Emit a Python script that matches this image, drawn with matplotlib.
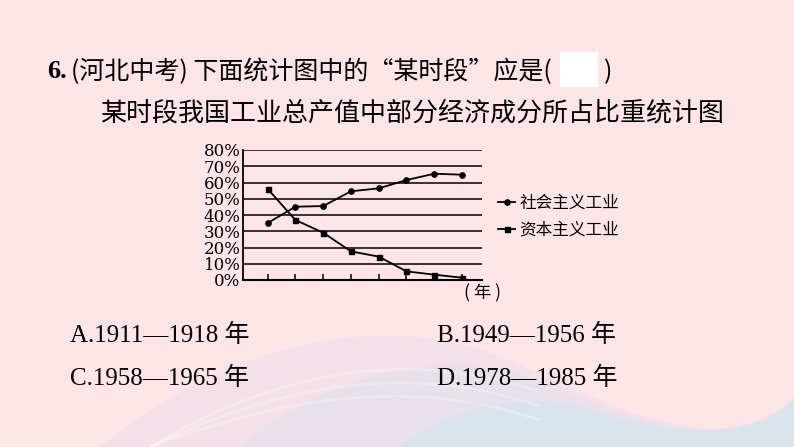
import matplotlib
matplotlib.use("Agg")
import matplotlib.pyplot as plt
from matplotlib.path import Path
from matplotlib.patches import PathPatch

# ---- data ----
x_idx = [0, 1, 2, 3, 4, 5, 6, 7]
socialist = [35.1, 45.1, 45.5, 54.6, 56.4, 61.5, 65.4, 64.8]
capitalist = [56.0, 36.9, 29.1, 17.6, 14.4, 5.3, 3.3, 1.4]
series_names = ["社会主义工业", "资本主义工业"]
y_ticks = [0, 10, 20, 30, 40, 50, 60, 70, 80]
y_labels = ["0%", "10%", "20%", "30%", "40%", "50%", "60%", "70%", "80%"]
question = "(河北中考) 下面统计图中的“某时段”应是("
chart_title = "某时段我国工业总产值中部分经济成分所占比重统计图"
options = ["A.1911—1918 年", "B.1949—1956 年", "C.1958—1965 年", "D.1978—1985 年"]

W, H = 794, 447
fig = plt.figure(figsize=(W / 100, H / 100), dpi=100)
fig.patch.set_facecolor("#fde4e6")

def fx(px):
    return px / W

def fy(py):
    return 1 - py / H

# decorative background wave (bottom right)
bg = fig.add_axes([0, 0, 1, 1], zorder=-10)
bg.set_xlim(0, W)
bg.set_ylim(H, 0)
bg.axis("off")
C4 = Path.CURVE4
codes = [Path.MOVETO, C4, C4, C4, C4, C4, C4, C4, C4, C4, Path.LINETO, Path.CLOSEPOLY]
v1 = [(100, 447), (220, 350), (380, 300), (520, 365),
      (590, 395), (640, 422), (700, 428),
      (750, 432), (780, 412), (794, 398),
      (794, 447), (100, 447)]
bg.add_patch(PathPatch(Path(v1, codes), facecolor="#f4e0e8", edgecolor="none"))
v2 = [(240, 447), (330, 370), (460, 340), (560, 390),
      (610, 410), (650, 426), (700, 429),
      (750, 432), (780, 412), (794, 398),
      (794, 447), (240, 447)]
bg.add_patch(PathPatch(Path(v2, codes), facecolor="#e8e0ea", edgecolor="none"))
v3 = [(400, 447), (460, 400), (540, 390), (600, 412),
      (640, 424), (670, 430), (700, 431),
      (750, 433), (780, 413), (794, 400),
      (794, 447), (400, 447)]
bg.add_patch(PathPatch(Path(v3, codes), facecolor="#dae3ec", edgecolor="none"))
for off in [0, 14, 28]:
    sv = [(150, 447), (270, 375 + off), (400, 345 + off), (540, 392 + off)]
    bg.add_patch(PathPatch(Path(sv, [Path.MOVETO, C4, C4, C4]), facecolor="none",
                           edgecolor="white", lw=2, alpha=0.25))

# ---- header text ----
fig.text(fx(47), fy(72), "6.", fontsize=19, fontweight="bold",
         family="Liberation Serif", va="center", ha="left")
fig.text(fx(71), fy(72), question, fontsize=18,
         family=["Noto Sans CJK SC", "DejaVu Sans"], va="center", ha="left")
bg.add_patch(plt.Rectangle((560, 52), 38, 35, facecolor="white", edgecolor="none"))
fig.text(fx(604), fy(72), ")", fontsize=18,
         family=["Noto Sans CJK SC", "DejaVu Sans"], va="center", ha="left")

fig.text(fx(100), fy(113), chart_title, fontsize=18.7,
         family=["Noto Sans CJK SC", "DejaVu Sans"], va="center", ha="left")

# ---- chart ----
ax = fig.add_axes([fx(243.3), fy(280), fx(481.7 - 243.3), (280 - 150) / H])
ax.set_facecolor("none")
ax.plot(x_idx, socialist, color="black", lw=1.3, marker="o", ms=3.8,
        label=series_names[0])
ax.plot(x_idx, capitalist, color="black", lw=1.3, marker="s", ms=3.6,
        label=series_names[1])
ax.set_xlim(-0.88, 7.71)
ax.set_ylim(0, 80)
ax.set_yticks(y_ticks)
ax.set_yticklabels(y_labels, family="DejaVu Serif", fontsize=12)
for v in y_ticks[1:]:
    ax.axhline(v, color="black", lw=1.1, zorder=0)
ax.set_xticks(x_idx)
ax.set_xticklabels([])
ax.tick_params(axis="x", direction="in", length=4, width=1.1)
ax.tick_params(axis="y", length=0, pad=2)
for s in ["top", "right"]:
    ax.spines[s].set_visible(False)
ax.spines["left"].set_linewidth(1.3)
ax.spines["bottom"].set_linewidth(1.5)

leg = ax.legend(loc="center left", bbox_to_anchor=(fx(490), fy(217)),
                bbox_transform=fig.transFigure, frameon=False,
                handlelength=1.0, handletextpad=0.25, labelspacing=0.6,
                prop={"family": ["Noto Sans CJK SC"], "size": 12}, borderpad=0)
for line in leg.get_lines():
    line.set_linewidth(1.3)

fig.text(fx(482), fy(293), "( 年 )", fontsize=12.5,
         family=["Noto Sans CJK SC", "DejaVu Sans"], va="center", ha="center")

# ---- options ----
opt_pos = [(70, 335), (437, 335), (70, 378), (437, 378)]
for txt, (px, py) in zip(options, opt_pos):
    fig.text(fx(px), fy(py), txt, fontsize=18,
             family=["Liberation Serif", "Noto Sans CJK SC"], va="center", ha="left")

fig.savefig("out.png", dpi=100, facecolor=fig.get_facecolor())
